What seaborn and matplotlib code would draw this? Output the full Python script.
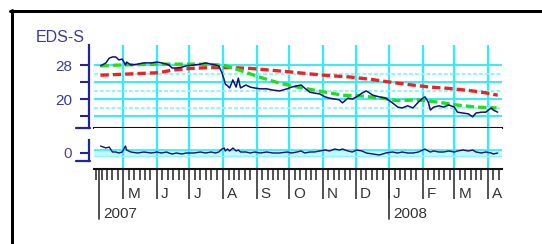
import pandas as pd
import seaborn as sns
import matplotlib.pyplot as plt
import matplotlib.dates as mdates
from matplotlib.lines import Line2D

# price series
price_dates = ['2007-04-10', '2007-04-15', '2007-04-18', '2007-04-21', '2007-04-24', '2007-04-27',
               '2007-04-30', '2007-05-03', '2007-05-04', '2007-05-08', '2007-05-14', '2007-05-20',
               '2007-05-27', '2007-06-01', '2007-06-05', '2007-06-10', '2007-06-12', '2007-06-15',
               '2007-06-19', '2007-06-24', '2007-06-28', '2007-07-05', '2007-07-11', '2007-07-16',
               '2007-07-21', '2007-07-25', '2007-07-28', '2007-07-31', '2007-08-02', '2007-08-03',
               '2007-08-05', '2007-08-07', '2007-08-10', '2007-08-13', '2007-08-15', '2007-08-17',
               '2007-08-22', '2007-08-26', '2007-08-30', '2007-09-04', '2007-09-10', '2007-09-16',
               '2007-09-22', '2007-09-29', '2007-10-03', '2007-10-08', '2007-10-12', '2007-10-15',
               '2007-10-20', '2007-10-24', '2007-10-29', '2007-11-03', '2007-11-07', '2007-11-12',
               '2007-11-16', '2007-11-19', '2007-11-24', '2007-11-28', '2007-12-02', '2007-12-07',
               '2007-12-11', '2007-12-17', '2007-12-23', '2007-12-29', '2008-01-04', '2008-01-09',
               '2008-01-13', '2008-01-18', '2008-01-23', '2008-01-28', '2008-02-01', '2008-02-03',
               '2008-02-06', '2008-02-08', '2008-02-11', '2008-02-16', '2008-02-20', '2008-02-25',
               '2008-03-01', '2008-03-04', '2008-03-09', '2008-03-14', '2008-03-18', '2008-03-21',
               '2008-03-26', '2008-03-30', '2008-04-04', '2008-04-06', '2008-04-10']
price_values = [27.8, 28.5, 29.6, 29.9, 29.9, 29.2, 29.4, 28.0, 28.7, 28.0, 28.2, 28.5,
                28.5, 28.7, 28.5, 28.2, 28.0, 27.3, 27.3, 27.5, 27.8, 28.0, 28.2, 28.5,
                28.2, 28.0, 27.8, 26.1, 24.5, 23.5, 23.1, 22.6, 24.5, 22.8, 24.9, 22.6,
                23.3, 22.8, 22.6, 22.4, 22.4, 22.1, 21.9, 22.4, 22.8, 23.1, 23.3, 22.6,
                21.6, 21.4, 21.2, 20.5, 20.2, 20.0, 19.8, 19.1, 20.2, 20.0, 20.5, 21.4,
                21.9, 20.9, 20.5, 20.2, 19.1, 18.1, 17.9, 18.4, 17.9, 19.3, 20.2, 20.5,
                19.3, 17.4, 18.1, 18.4, 18.1, 18.6, 18.1, 16.9, 16.7, 16.5, 15.8, 16.7,
                16.9, 16.9, 17.9, 17.4, 16.9]
osc_values = [0.7, 0.5, 0.6, 0.1, 0.1, 0.0, 0.1, 0.7, 0.3, 0.1, 0.0, 0.1,
              0.0, 0.1, 0.0, 0.1, 0.0, -0.1, 0.0, -0.1, 0.0, 0.0, 0.1, 0.0,
              0.1, 0.0, 0.1, 0.4, 0.5, 0.2, 0.4, 0.2, 0.5, 0.2, 0.3, 0.1,
              0.1, 0.0, 0.1, 0.0, 0.1, 0.0, 0.0, 0.1, 0.0, 0.1, 0.2, 0.0,
              0.1, 0.1, 0.2, 0.3, 0.2, 0.4, 0.3, 0.4, 0.2, 0.1, 0.3, 0.2,
              0.0, -0.1, -0.2, 0.0, 0.1, 0.0, 0.1, 0.0, 0.0, 0.1, 0.3, 0.4,
              0.2, 0.1, 0.2, 0.1, 0.1, 0.2, 0.1, 0.2, 0.3, 0.2, 0.3, 0.1,
              0.0, 0.1, 0.0, -0.1, 0.0]

ma_short_dates = ['2007-04-10', '2007-04-28', '2007-05-16', '2007-06-03', '2007-06-22', '2007-07-10',
                  '2007-07-24', '2007-08-02', '2007-08-16', '2007-09-03', '2007-09-21', '2007-10-09',
                  '2007-10-28', '2007-11-19', '2007-12-07', '2007-12-26', '2008-01-08', '2008-01-27',
                  '2008-02-14', '2008-03-03', '2008-03-21', '2008-04-09']
ma_short_values = [27.8, 28.0, 28.1, 28.2, 28.2, 28.2, 28.1, 27.9, 26.8, 25.2, 23.8, 22.8,
                   21.9, 20.9, 20.7, 20.2, 19.6, 19.8, 19.3, 18.6, 18.1, 17.9]

ma_long_dates = ['2007-04-10', '2007-04-28', '2007-05-16', '2007-06-03', '2007-06-15', '2007-07-02',
                 '2007-07-20', '2007-08-07', '2007-08-26', '2007-09-13', '2007-10-01', '2007-10-20',
                 '2007-11-07', '2007-11-25', '2007-12-13', '2008-01-01', '2008-01-19', '2008-02-08',
                 '2008-02-25', '2008-03-15', '2008-03-29', '2008-04-10']
ma_long_values = [25.6, 25.8, 26.0, 26.2, 26.8, 27.2, 27.4, 27.4, 27.2, 26.8, 26.4, 25.9,
                  25.5, 25.2, 24.7, 24.0, 23.4, 22.8, 22.5, 22.0, 21.5, 20.9]

month_starts = ['2007-05-01', '2007-06-01', '2007-07-01', '2007-08-01', '2007-09-01', '2007-10-01',
                '2007-11-01', '2007-12-01', '2008-01-01', '2008-02-01', '2008-03-01', '2008-04-01']
month_labels = ['M', 'J', 'J', 'A', 'S', 'O', 'N', 'D', 'J', 'F', 'M', 'A']
year_marks = ['2007-04-09', '2008-01-01']
year_labels = ['2007', '2008']
ytick_values = [28, 24, 20, 16]
ytick_labels = ['28', '', '20', '']

sns.set_theme(style='white')
plt.rcParams['font.family'] = ['Liberation Sans', 'DejaVu Sans']

W, H = 542, 244
fig = plt.figure(figsize=(W / 100, H / 100), dpi=100)

def fx(px):
    return px / W

def fy(py):
    return 1 - py / H

cyan = '#30eef6'
navy = '#24249a'
label_col = '#3a3a9a'
dark = '#333333'
px = 0.72  # points per pixel

ax = fig.add_axes([fx(94), fy(128), fx(502) - fx(94), fy(45) - fy(128)])
ax2 = fig.add_axes([fx(94), fy(169), fx(502) - fx(94), fy(128) - fy(169)])

price = pd.DataFrame({'date': pd.to_datetime(price_dates), 'value': price_values, 'osc': osc_values})
ma_s = pd.DataFrame({'date': pd.to_datetime(ma_short_dates), 'value': ma_short_values})
ma_l = pd.DataFrame({'date': pd.to_datetime(ma_long_dates), 'value': ma_long_values})

xmin, xmax = pd.Timestamp('2007-04-04'), pd.Timestamp('2008-04-14')

# main price panel
sns.lineplot(data=ma_l, x='date', y='value', ax=ax, color='#ea2424', lw=2.4,
             linestyle=(0, (2.5, 1.2)), zorder=3)
sns.lineplot(data=ma_s, x='date', y='value', ax=ax, color='#22dd22', lw=2.4,
             linestyle=(0, (2.5, 1.2)), zorder=4)
sns.lineplot(data=price, x='date', y='value', ax=ax, color='#10107a', lw=1.1, zorder=5)

ax.set_xlim(xmin, xmax)
ax.set_ylim(13.18, 32.71)
ax.set_xlabel('')
ax.set_ylabel('')

ax.xaxis.set_major_locator(mdates.MonthLocator())
ax.set_yticks(ytick_values)
ax.set_yticklabels(ytick_labels)
ax.set_yticks([26, 22, 18], minor=True)
ax.grid(axis='x', which='major', color=cyan, lw=1.6)
ax.grid(axis='y', which='major', color=cyan, lw=1.4)
ax.grid(axis='y', which='minor', color='#8ff6fa', lw=1.4, linestyle=(0, (2, 1)))
ax.set_axisbelow(True)
ax.tick_params(axis='x', which='both', bottom=False, labelbottom=False)
ax.tick_params(axis='y', which='major', left=True, direction='out', length=9 * px, width=1.5,
               color=navy, labelcolor=label_col, labelsize=11, pad=5.8)
ax.tick_params(axis='y', which='minor', left=False)
for s in ['top', 'right']:
    ax.spines[s].set_visible(False)
ax.spines['bottom'].set_color('#111111')
ax.spines['bottom'].set_linewidth(1.5)
ax.spines['left'].set_position(('outward', 5 * px))
ax.spines['left'].set_color(navy)
ax.spines['left'].set_linewidth(1.6)

# lower oscillator panel
ax2.axhspan(-0.3, 0.3, color='#c4f8fa', lw=0, zorder=0)
ax2.axhline(0.3, color=cyan, lw=1.2, zorder=1)
ax2.axhline(-0.3, color='#8ff6fa', lw=1.0, zorder=1)
sns.lineplot(data=price, x='date', y='osc', ax=ax2, color='#10107a', lw=1.0, zorder=5)
ax2.set_xlim(xmin, xmax)
ax2.set_ylim(-1.6, 2.5)
ax2.set_xlabel('')
ax2.set_ylabel('')
ax2.set_yticks([0])
ax2.set_axisbelow(True)
ax2.tick_params(axis='y', left=True, direction='out', length=9 * px, width=1.5, color=navy,
                labelcolor='#5a3a9e', labelsize=11, pad=5.8)
for s in ['top', 'right']:
    ax2.spines[s].set_visible(False)
ax2.spines['bottom'].set_color('#111111')
ax2.spines['bottom'].set_linewidth(1.5)
ax2.spines['left'].set_position(('outward', 5 * px))
ax2.spines['left'].set_bounds(-0.8, 1.3)
ax2.spines['left'].set_color(navy)
ax2.spines['left'].set_linewidth(1.6)

# time axis
ax2.xaxis.set_major_locator(mdates.MonthLocator())
ax2.xaxis.set_minor_locator(mdates.DayLocator(bymonthday=[6, 11, 16, 21, 26]))
ax2.grid(axis='x', which='major', color=cyan, lw=1.6)
ax2.tick_params(axis='x', which='major', bottom=True, direction='out', length=30 * px, width=1.2,
                color=dark, labelbottom=False)
ax2.tick_params(axis='x', which='minor', bottom=True, direction='out', length=11 * px, width=1.2,
                color=dark, labelbottom=False)
for d, lab in zip(month_starts, month_labels):
    ax2.annotate(lab, xy=(pd.Timestamp(d), 0), xycoords=('data', 'axes fraction'),
                 xytext=(4 * px, -29 * px), textcoords='offset points',
                 ha='left', va='baseline', fontsize=11, color=dark)
trans = ax2.get_xaxis_transform()
for d, lab in zip(year_marks, year_labels):
    t = pd.Timestamp(d)
    ax2.plot([t, t], [0, -50 / 41], transform=trans, clip_on=False, color=dark, lw=1.2)
    ax2.annotate(lab, xy=(t, 0), xycoords=('data', 'axes fraction'),
                 xytext=(4 * px, -49 * px), textcoords='offset points',
                 ha='left', va='baseline', fontsize=11, color=dark)

# bracket feet on the value axes
for yy in [128, 161]:
    fig.add_artist(Line2D([fx(76), fx(89.5)], [fy(yy), fy(yy)], color=navy, lw=1.6))

fig.text(fx(36), fy(42), 'EDS-S', fontsize=11.5, color=label_col, ha='left', va='baseline')

# outer frame (top and left edges visible)
fig.add_artist(Line2D([fx(10), 1], [fy(10.5), fy(10.5)], color='black', lw=3 * px))
fig.add_artist(Line2D([fx(11.5), fx(11.5)], [fy(10), 0], color='black', lw=3 * px))

fig.savefig('out.png', dpi=100)
plt.close(fig)
